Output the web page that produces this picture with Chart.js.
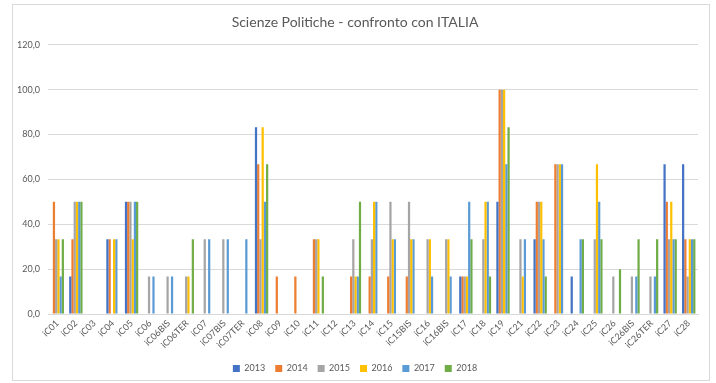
<!DOCTYPE html>
<html><head><meta charset="utf-8">
<script src="https://cdn.jsdelivr.net/npm/chart.js@4"></script>
<style>html,body{margin:0;padding:0;background:#fff}#wrap{width:716px;height:383px;position:relative}</style>
</head><body><div id="wrap"><canvas id="c" width="716" height="383"></canvas></div>
<script>
const categories = ["iC01","iC02","iC03","iC04","iC05","iC06","iC06BIS","iC06TER","iC07","iC07BIS","iC07TER","iC08","iC09","iC10","iC11","iC12","iC13","iC14","iC15","iC15BIS","iC16","iC16BIS","iC17","iC18","iC19","iC21","iC22","iC23","iC24","iC25","iC26","iC26BIS","iC26TER","iC27","iC28"];
const seriesNames = ["2013","2014","2015","2016","2017","2018"];
const v2013 = [0,16.7,0,33.3,50,0,0,0,0,0,0,83.3,0,0,0,0,0,0,0,0,0,0,16.7,0,50,0,33.3,0,16.7,0,0,0,0,66.7,66.7];
const v2014 = [50,33.3,0,33.3,50,0,0,0,0,0,0,66.7,16.7,16.7,33.3,0,16.7,16.7,16.7,16.7,0,0,16.7,0,100,0,50,66.7,0,0,0,0,0,50,33.3];
const v2015 = [33.3,50,0,0,50,16.7,16.7,16.7,33.3,33.3,0,33.3,0,0,33.3,0,33.3,33.3,50,50,33.3,33.3,16.7,33.3,100,33.3,50,66.7,0,33.3,16.7,16.7,16.7,33.3,16.7];
const v2016 = [33.3,50,0,33.3,33.3,0,0,16.7,0,0,0,83.3,0,0,33.3,0,16.7,50,33.3,33.3,33.3,33.3,16.7,50,100,16.7,50,66.7,0,66.7,0,0,0,50,33.3];
const v2017 = [16.7,50,0,33.3,50,16.7,16.7,0,33.3,33.3,33.3,50,0,0,0,0,16.7,50,33.3,33.3,16.7,16.7,50,50,66.7,33.3,33.3,66.7,33.3,50,0,16.7,16.7,33.3,33.3];
const v2018 = [33.3,50,0,0,50,0,0,33.3,0,0,0,66.7,0,0,16.7,0,50,0,0,0,0,0,33.3,16.7,83.3,0,16.7,0,33.3,33.3,20,33.3,33.3,33.3,33.3];
const yTicks = [0,20,40,60,80,100,120];
const colors = ["#4472C4","#ED7D31","#A5A5A5","#FFC000","#5B9BD5","#70AD47"];
const allValues = [v2013,v2014,v2015,v2016,v2017,v2018];

const FONT = "Lato";
const frame = {
  id:'frame',
  beforeDraw(chart){
    const c = chart.ctx; c.save();
    c.strokeStyle = '#d9d9d9'; c.lineWidth = 1;
    c.strokeRect(12.5,4.5,697,376);
    c.restore();
  }
};

new Chart(document.getElementById('c'), {
  type:'bar',
  data:{
    labels: categories,
    datasets: seriesNames.map((n,i)=>({label:n, data:allValues[i], backgroundColor:colors[i], categoryPercentage:0.72, barPercentage:1.0}))
  },
  options:{
    responsive:false, animation:false, devicePixelRatio:1,
    layout:{padding:{left:12,right:18,top:0,bottom:0}},
    plugins:{
      title:{display:true, text:"Scienze Politiche - confronto con ITALIA", color:'#595959', font:{family:FONT,size:14,weight:'normal'}, padding:{top:14,bottom:14}},
      legend:{position:'bottom', labels:{boxWidth:7, boxHeight:7, color:'#595959', font:{family:FONT,size:9}, padding:10}},
      tooltip:{enabled:false}
    },
    scales:{
      y:{min:0,max:120,
        afterBuildTicks(s){ s.ticks = yTicks.map(v=>({value:v})); },
        afterFit(s){ s.width = 36; },
        ticks:{color:'#595959', font:{family:FONT,size:9}, padding:8, callback:v=>v.toFixed(1).replace('.',',')},
        grid:{color:'#d9d9d9', drawTicks:false}, border:{display:false}},
      x:{
        afterFit(s){ s.height = 40; },
        ticks:{color:'#595959', font:{family:FONT,size:9}, minRotation:45, maxRotation:45, autoSkip:false, padding:4},
        grid:{display:false, drawTicks:false}, border:{display:true, color:'#d9d9d9'}}
    }
  },
  plugins:[frame]
});
</script></body></html>
